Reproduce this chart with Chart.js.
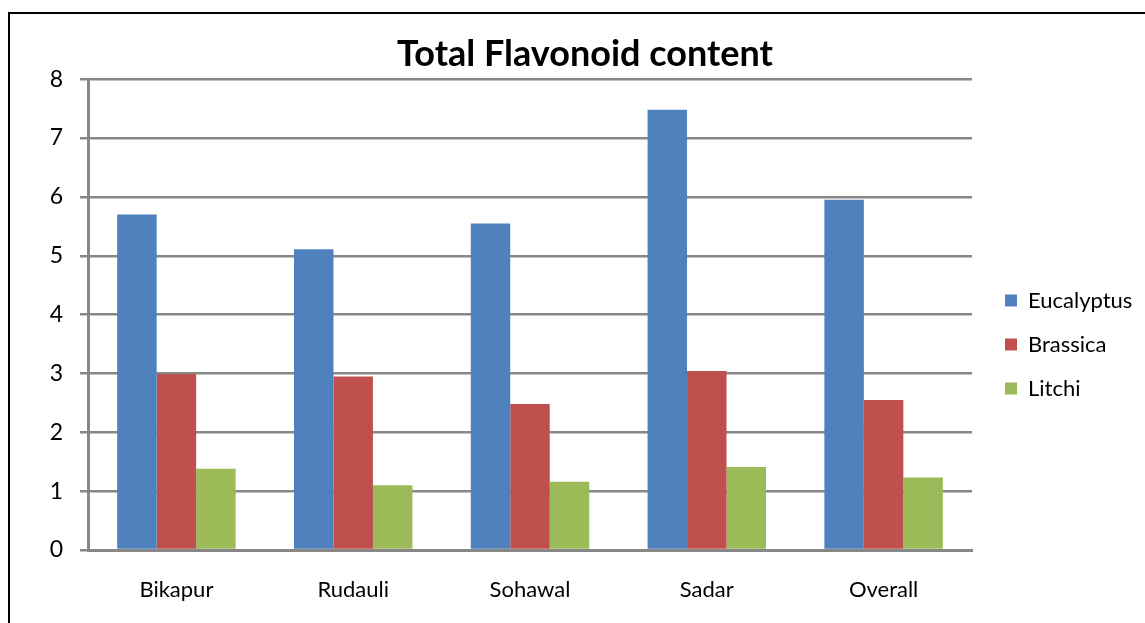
<!DOCTYPE html>
<html>
<head>
<meta charset="utf-8">
<script src="https://cdn.jsdelivr.net/npm/chart.js@4"></script>
<style>
    body { margin: 0; overflow: hidden; background: #fff; width: 1145px; height: 623px; position: relative; }
    .frame { position: absolute; left: 8px; top: 12px; width: 1200px; height: 700px; border-left: 2px solid #000; border-top: 2px solid #000; }
    .box { position: absolute; left: 11px; top: 14px; width: 1148px; height: 609px; }
</style>
</head>
<body>
<div class="frame"></div>
<div class="box"><canvas class="my-chart"></canvas></div>
<script>
const places = ['Bikapur', 'Rudauli', 'Sohawal', 'Sadar', 'Overall'];
const eucalyptus = [5.70, 5.11, 5.55, 7.48, 5.95];
const brassica = [2.99, 2.95, 2.48, 3.04, 2.55];
const litchi = [1.38, 1.10, 1.16, 1.41, 1.23];
const yTicks = [0, 1, 2, 3, 4, 5, 6, 7, 8];

const grey = '#878787';
const myChart = document.querySelector('.my-chart');

// fixed legend width, then nudge it right and down like the original
const legendShift = {
    id: 'legendShift',
    beforeLayout(chart) {
        const lg = chart.legend;
        if (lg && !lg._fixed) {
            const fit = lg.fit.bind(lg);
            lg.fit = function () {
                fit();
                this.width = 187;
            };
            lg._fixed = true;
        }
    },
    afterLayout(chart) {
        const lg = chart.legend;
        if (lg) {
            lg.left += 11;
            lg.right += 11;
            lg.top += 26;
            lg.bottom += 26;
        }
    }
};

new Chart(myChart, {
    type: 'bar',
    data: {
        labels: places,
        datasets: [
            { label: 'Eucalyptus', data: eucalyptus, backgroundColor: '#4F81BD' },
            { label: 'Brassica', data: brassica, backgroundColor: '#C0504D' },
            { label: 'Litchi', data: litchi, backgroundColor: '#9BBB59' }
        ]
    },
    options: {
        responsive: true,
        maintainAspectRatio: false,
        animation: false,
        barPercentage: 1,
        categoryPercentage: 0.67,
        plugins: {
            title: {
                display: true,
                text: 'Total Flavonoid content',
                color: '#000',
                font: { family: 'Lato', size: 36, weight: 'bold' },
                padding: { top: 19, bottom: 3 }
            },
            legend: {
                position: 'right',
                labels: {
                    color: '#000',
                    font: { family: 'Lato', size: 22 },
                    boxWidth: 12,
                    boxHeight: 12,
                    padding: 22
                }
            },
            tooltip: { enabled: false }
        },
        scales: {
            x: {
                grid: { display: false },
                border: { display: true, color: grey, width: 3 },
                ticks: { color: '#000', font: { family: 'Lato', size: 22 }, padding: 19 },
                afterFit(scale) { scale.height = 73; }
            },
            y: {
                min: 0,
                max: 8,
                afterBuildTicks(scale) { scale.ticks = yTicks.map(v => ({ value: v })); },
                grid: { color: grey, lineWidth: 2.5, tickLength: 8 },
                border: { display: true, color: grey, width: 3 },
                ticks: { color: '#000', font: { family: 'Lato', size: 23 }, padding: 17 },
                afterFit(scale) { scale.width = 77; }
            }
        }
    },
    plugins: [legendShift]
});
</script>
</body>
</html>
